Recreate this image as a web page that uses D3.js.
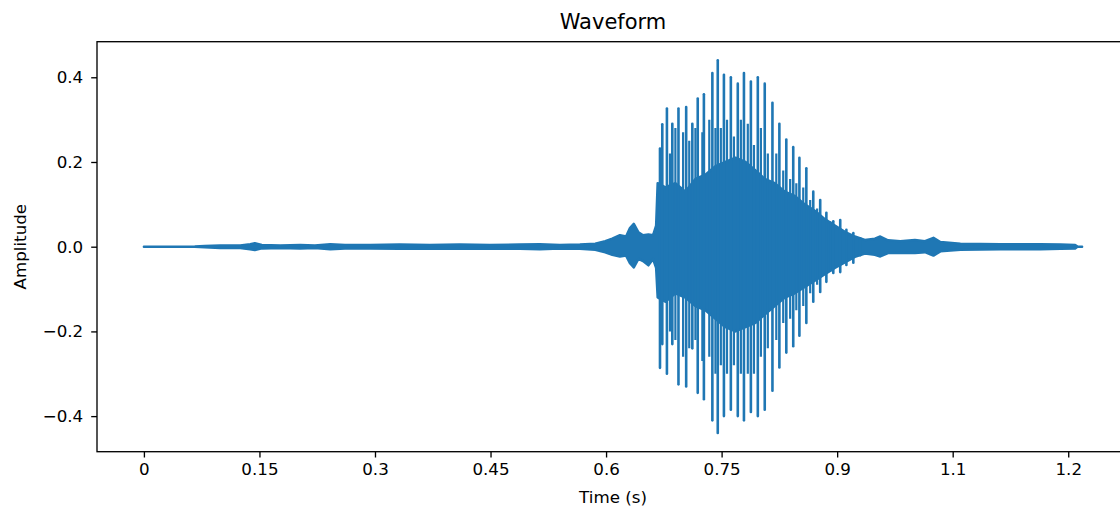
<!DOCTYPE html>
<html>
<head>
<meta charset="utf-8">
<script src="https://cdn.jsdelivr.net/npm/d3@7"></script>
<style>
  body { margin: 0; background: #fff; }
  svg { display: block; font-family: "DejaVu Sans", sans-serif; }
</style>
</head>
<body>
<svg id="chart" width="1120" height="508"></svg>
<script>
// dense body of the waveform: time (s), upper and lower edge
var bodyTime  = [0, 0.066, 0.079, 0.099, 0.125, 0.138, 0.144, 0.153, 0.177, 0.203, 0.222, 0.242, 0.261, 0.294, 0.332, 0.371, 0.410, 0.449, 0.488, 0.514, 0.540, 0.566, 0.586, 0.599, 0.608, 0.618, 0.626, 0.631, 0.636, 0.642, 0.648, 0.655, 0.661, 0.665, 0.667,
	0.677, 0.690, 0.703, 0.716, 0.729, 0.742, 0.755, 0.768, 0.781, 0.794, 0.806, 0.819, 0.832, 0.845, 0.858, 0.871, 0.884, 0.897, 0.910, 0.923, 0.936,
	0.949, 0.956, 0.966, 0.982, 1.001, 1.014, 1.025, 1.034, 1.060, 1.112, 1.164, 1.190, 1.209, 1.212, 1.218];
var bodyUpper = [0, 0.0003, 0.0015, 0.003, 0.003, 0.006, 0.008, 0.004, 0.003, 0.004, 0.003, 0.006, 0.004, 0.004, 0.005, 0.004, 0.005, 0.004, 0.005, 0.006, 0.004, 0.005, 0.007, 0.013, 0.019, 0.027, 0.024, 0.044, 0.054, 0.034, 0.027, 0.029, 0.027, 0.05, 0.15,
	0.14, 0.15, 0.13, 0.16, 0.17, 0.19, 0.2, 0.21, 0.2, 0.18, 0.16, 0.15, 0.13, 0.12, 0.1, 0.085, 0.065, 0.05, 0.035, 0.024, 0.016,
	0.019, 0.024, 0.015, 0.013, 0.016, 0.013, 0.021, 0.011, 0.007, 0.006, 0.006, 0.005, 0.004, 0.0003, 0];
var bodyLower = [0, -0.0003, -0.0015, -0.003, -0.003, -0.006, -0.008, -0.004, -0.003, -0.004, -0.003, -0.006, -0.004, -0.004, -0.005, -0.004, -0.005, -0.004, -0.005, -0.006, -0.004, -0.005, -0.007, -0.013, -0.019, -0.023, -0.021, -0.039, -0.049, -0.029, -0.034, -0.044, -0.029, -0.05, -0.12,
	-0.13, -0.11, -0.12, -0.14, -0.15, -0.17, -0.19, -0.2, -0.19, -0.18, -0.16, -0.14, -0.12, -0.11, -0.095, -0.08, -0.065, -0.05, -0.037, -0.024, -0.016,
	-0.019, -0.023, -0.015, -0.014, -0.015, -0.013, -0.021, -0.011, -0.007, -0.006, -0.006, -0.005, -0.004, -0.0003, 0];

// pitch-period spikes in the voiced part
var spikeTime   = [0.670, 0.673, 0.679, 0.686, 0.694, 0.704, 0.712, 0.719, 0.727, 0.738, 0.745, 0.753, 0.762, 0.771, 0.779, 0.788, 0.797, 0.806, 0.816, 0.825, 0.834, 0.843, 0.851, 0.860, 0.869, 0.878, 0.886, 0.895, 0.904, 0.912, 0.921, 0.930];
var spikeTop    = [0.232, 0.289, 0.326, 0.29, 0.326, 0.33, 0.29, 0.35, 0.36, 0.41, 0.44, 0.406, 0.40, 0.385, 0.41, 0.39, 0.40, 0.385, 0.34, 0.29, 0.253, 0.235, 0.21, 0.185, 0.13, 0.11, 0.08, 0.06, 0.063, 0.04, 0.032, 0.02];
var spikeBottom = [-0.286, -0.23, -0.30, -0.23, -0.325, -0.33, -0.24, -0.345, -0.36, -0.41, -0.44, -0.40, -0.385, -0.40, -0.41, -0.39, -0.40, -0.385, -0.34, -0.285, -0.25, -0.235, -0.21, -0.18, -0.13, -0.107, -0.083, -0.062, -0.06, -0.043, -0.038, -0.02];

// shorter spikes between the main ones
var minorTime   = [0.683, 0.690, 0.700, 0.708, 0.716, 0.725, 0.734, 0.742, 0.749, 0.757, 0.766, 0.775, 0.784, 0.792, 0.801, 0.810, 0.821, 0.830, 0.839, 0.847, 0.856, 0.865, 0.874, 0.891];
var minorTop    = [0.22, 0.28, 0.27, 0.25, 0.28, 0.27, 0.30, 0.28, 0.28, 0.30, 0.26, 0.30, 0.29, 0.24, 0.28, 0.22, 0.22, 0.18, 0.16, 0.15, 0.14, 0.11, 0.09, 0.06];
var minorBottom = [-0.2, -0.22, -0.26, -0.24, -0.22, -0.27, -0.26, -0.3, -0.28, -0.3, -0.28, -0.3, -0.3, -0.3, -0.26, -0.24, -0.22, -0.18, -0.17, -0.15, -0.14, -0.11, -0.09, -0.06];

var xTickValues = [0, 0.15, 0.3, 0.45, 0.6, 0.75, 0.9, 1.05, 1.2];
var xTickLabels = ["0", "0.15", "0.3", "0.45", "0.6", "0.75", "0.9", "1.1", "1.2"];
var yTickValues = [-0.4, -0.2, 0, 0.2, 0.4];

var color = "#1f77b4";
var margin = { left: 97, top: 41.7, right: 1129, bottom: 451.7 };

var svg = d3.select("#chart");

// matplotlib-style 5% margins around the data
var tMax = d3.max(bodyTime);
var aMax = d3.max(spikeTop.concat(spikeBottom.map(Math.abs)));
var x = d3.scaleLinear()
	.domain([-0.05 * tMax, tMax * 1.05])
	.range([margin.left, margin.right]);
var y = d3.scaleLinear()
	.domain([-aMax * 1.1, aMax * 1.1])
	.range([margin.bottom, margin.top]);

svg.append("clipPath").attr("id", "clip")
	.append("rect")
	.attr("x", margin.left).attr("y", margin.top)
	.attr("width", margin.right - margin.left)
	.attr("height", margin.bottom - margin.top);

var plot = svg.append("g").attr("clip-path", "url(#clip)");

var body = bodyTime.map(function (t, i) { return { t: t, hi: bodyUpper[i], lo: bodyLower[i] }; });

var area = d3.area()
	.x(function (d) { return x(d.t); })
	.y0(function (d) { return y(d.lo); })
	.y1(function (d) { return y(d.hi); });

plot.append("path")
	.datum(body)
	.attr("d", area)
	.attr("fill", color)
	.attr("stroke", color)
	.attr("stroke-width", 2.5)
	.attr("stroke-linejoin", "round");

// minor spikes
plot.selectAll(".minor")
	.data(minorTime)
	.enter().append("line")
	.attr("class", "minor")
	.attr("x1", function (d) { return x(d); })
	.attr("x2", function (d) { return x(d); })
	.attr("y1", function (d, i) { return y(minorTop[i]); })
	.attr("y2", function (d, i) { return y(minorBottom[i]); })
	.attr("stroke", color)
	.attr("stroke-width", 2.2);

// main spikes
plot.selectAll(".spike")
	.data(spikeTime)
	.enter().append("line")
	.attr("class", "spike")
	.attr("x1", function (d) { return x(d); })
	.attr("x2", function (d) { return x(d); })
	.attr("y1", function (d, i) { return y(spikeTop[i]); })
	.attr("y2", function (d, i) { return y(spikeBottom[i]); })
	.attr("stroke", color)
	.attr("stroke-width", 2.6)
	.attr("stroke-linecap", "round");

// axes
var xAxis = d3.axisBottom(x)
	.tickValues(xTickValues)
	.tickFormat(function (d, i) { return xTickLabels[i]; })
	.tickSizeOuter(0)
	.tickSize(5.8)
	.tickPadding(6);

var yAxis = d3.axisLeft(y)
	.tickValues(yTickValues)
	.tickFormat(function (d) { return d3.format(".1f")(d).replace("-", "\u2212"); })
	.tickSizeOuter(0)
	.tickSize(5.8)
	.tickPadding(8);

var gx = svg.append("g")
	.attr("transform", "translate(0," + margin.bottom + ")")
	.call(xAxis);
var gy = svg.append("g")
	.attr("transform", "translate(" + margin.left + ",0)")
	.call(yAxis);

[gx, gy].forEach(function (g) {
	g.select(".domain").remove();
	g.selectAll(".tick line").attr("stroke", "#000").attr("stroke-width", 1.33);
	g.selectAll(".tick text")
		.attr("fill", "#000")
		.attr("font-size", "16.7px")
		.attr("font-family", "DejaVu Sans");
});

// frame
svg.append("rect")
	.attr("x", margin.left).attr("y", margin.top)
	.attr("width", margin.right - margin.left)
	.attr("height", margin.bottom - margin.top)
	.attr("fill", "none")
	.attr("stroke", "#000")
	.attr("stroke-width", 1.33);

svg.append("text")
	.attr("x", (margin.left + margin.right) / 2)
	.attr("y", 29)
	.attr("text-anchor", "middle")
	.attr("font-size", "21px")
	.text("Waveform");

svg.append("text")
	.attr("x", (margin.left + margin.right) / 2)
	.attr("y", 503)
	.attr("text-anchor", "middle")
	.attr("font-size", "16.7px")
	.text("Time (s)");

svg.append("text")
	.attr("transform", "translate(26," + (margin.top + margin.bottom) / 2 + ") rotate(-90)")
	.attr("text-anchor", "middle")
	.attr("font-size", "16.7px")
	.text("Amplitude");
</script>
</body>
</html>
